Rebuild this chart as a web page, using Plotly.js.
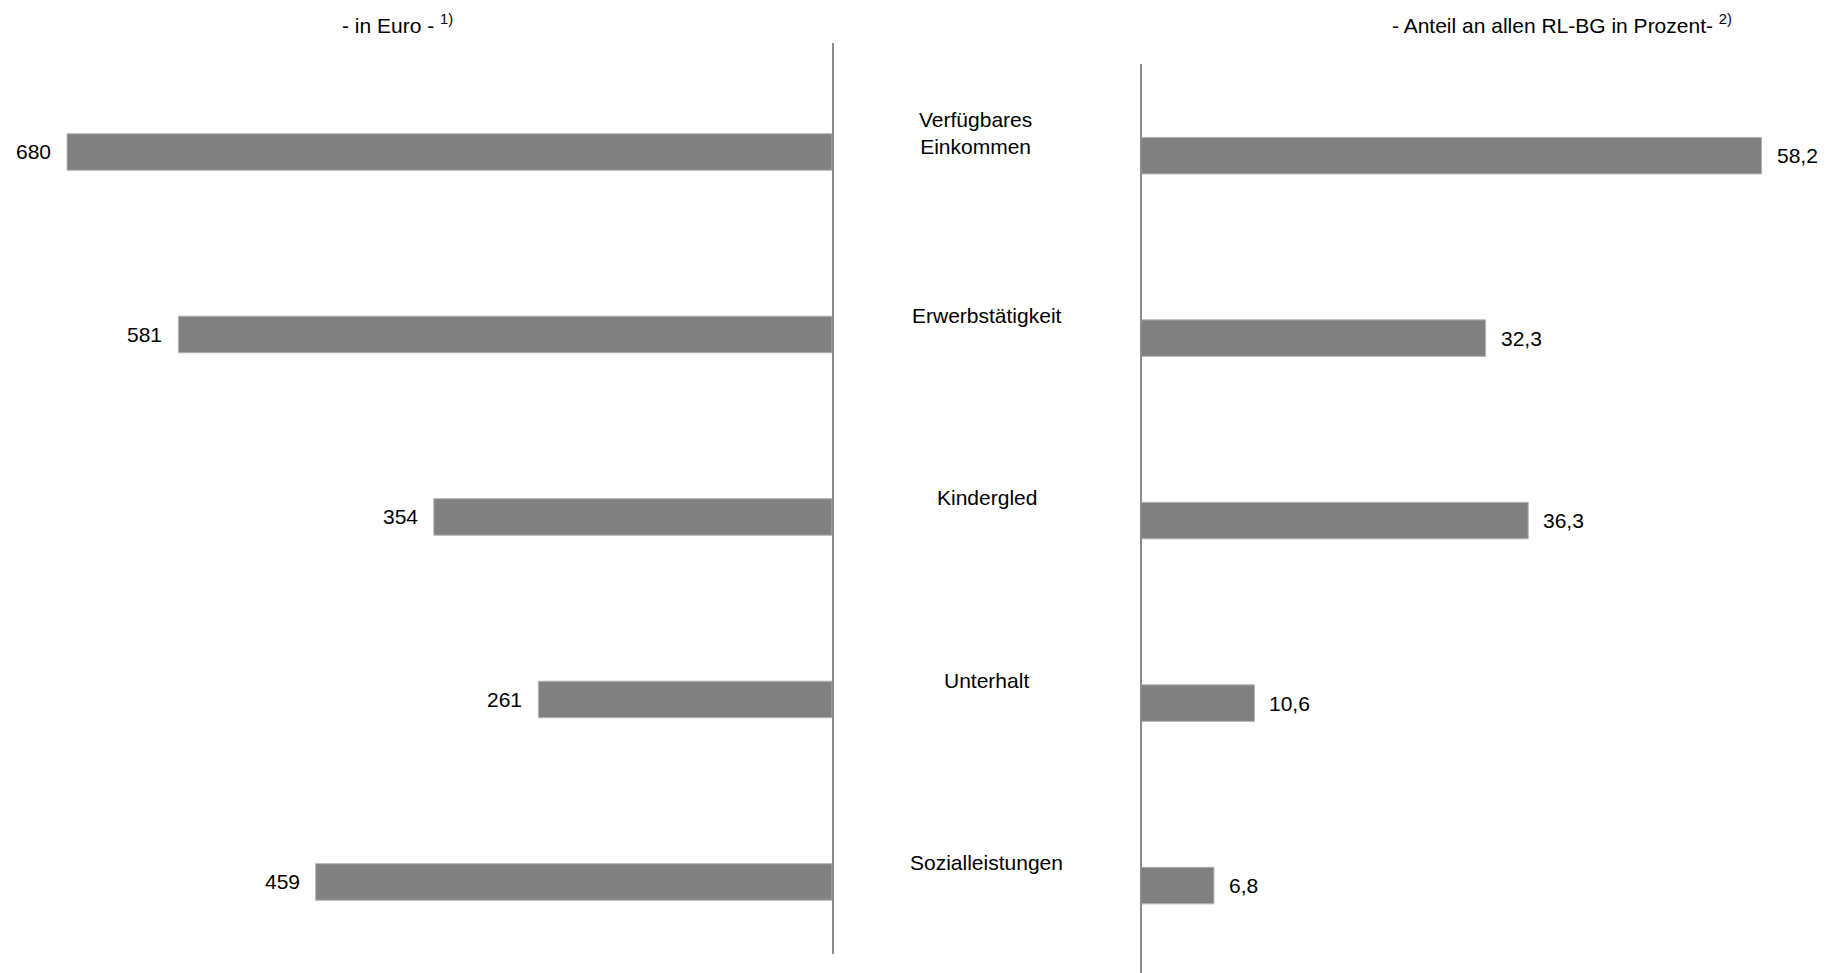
<!DOCTYPE html>
<html>
<head>
<meta charset="utf-8">
<script src="https://cdn.plot.ly/plotly-3.0.1.min.js"></script>
<style>
  html, body { margin: 0; padding: 0; background: #ffffff; }
  #chart { width: 1834px; height: 973px; }
</style>
</head>
<body>
<div id="chart"></div>
<script>
// ---- data ----
const categories = ["Verfügbares Einkommen", "Erwerbstätigkeit", "Kindergled", "Unterhalt", "Sozialleistungen"];
const categoryLabels = ["Verfügbares<br>Einkommen", "Erwerbstätigkeit", "Kindergled", "Unterhalt", "Sozialleistungen"];
const euroValues = [680, 581, 354, 261, 459];
const shareValues = [58.2, 32.3, 36.3, 10.6, 6.8];
const leftTitle = "- in Euro - <sup>1)</sup>";
const rightTitle = "- Anteil an allen RL-BG in Prozent- <sup>2)</sup>";

// ---- styles ----
const FONT = "Liberation Sans, Arial, Helvetica, sans-serif";
const BAR_COLOR = "#808080";
const LINE_COLOR = "#8c8c8c";
const LABEL_XSHIFTS = [-11, 0, 0, 0, 0];

const traces = [
  {
    type: "bar", orientation: "h",
    y: categories, x: euroValues,
    xaxis: "x", yaxis: "y",
    width: 0.2,
    marker: { color: BAR_COLOR, line: { color: "#b3b3b3", width: 1 } },
    hoverinfo: "skip"
  },
  {
    type: "bar", orientation: "h",
    y: categories, x: shareValues,
    xaxis: "x2", yaxis: "y2",
    width: 0.2,
    marker: { color: BAR_COLOR, line: { color: "#b3b3b3", width: 1 } },
    hoverinfo: "skip"
  }
];

const annotations = [];
// value labels
euroValues.forEach((v, i) => {
  annotations.push({
    xref: "x", yref: "y", x: v, y: categories[i],
    text: String(v), showarrow: false,
    xanchor: "right", yanchor: "middle", xshift: -14,
    font: { family: FONT, size: 21, color: "#000" }
  });
});
shareValues.forEach((v, i) => {
  annotations.push({
    xref: "x2", yref: "y2", x: v, y: categories[i],
    text: v.toFixed(1).replace(".", ","), showarrow: false,
    xanchor: "left", yanchor: "middle", xshift: 13,
    font: { family: FONT, size: 21, color: "#000" }
  });
});
// category labels in the middle
categoryLabels.forEach((c, i) => {
  annotations.push({
    xref: "paper", yref: "y", x: 0.538, y: categories[i],
    text: c, showarrow: false,
    xanchor: "center", yanchor: "middle", yshift: 19, xshift: LABEL_XSHIFTS[i],
    align: "center",
    font: { family: FONT, size: 21, color: "#000" }
  });
});
// panel titles
annotations.push({
  xref: "paper", yref: "paper", x: 0.217, y: 0.9753,
  text: leftTitle, showarrow: false, xanchor: "center", yanchor: "middle",
  font: { family: FONT, size: 21, color: "#000" }
});
annotations.push({
  xref: "paper", yref: "paper", x: 0.8517, y: 0.9753,
  text: rightTitle, showarrow: false, xanchor: "center", yanchor: "middle",
  font: { family: FONT, size: 21, color: "#000" }
});

const layout = {
  width: 1834, height: 973,
  margin: { l: 0, r: 0, t: 0, b: 0, pad: 0 },
  paper_bgcolor: "#ffffff", plot_bgcolor: "rgba(0,0,0,0)",
  showlegend: false,
  font: { family: FONT, size: 21, color: "#000" },
  bargap: 0,
  xaxis: {
    domain: [0, 0.45366], range: [739.6, 0],
    visible: false, fixedrange: true
  },
  yaxis: {
    domain: [0.0195, 0.9558], range: [4.395, -0.597],
    type: "category", categoryorder: "array", categoryarray: categories,
    anchor: "x", side: "right",
    showline: true, linecolor: LINE_COLOR, linewidth: 1.5,
    showticklabels: false, ticks: "", showgrid: false, zeroline: false, fixedrange: true
  },
  xaxis2: {
    domain: [0.62241, 1], range: [0, 65.0],
    anchor: "y2",
    visible: false, fixedrange: true
  },
  yaxis2: {
    domain: [0, 0.9342], range: [4.479, -0.502],
    type: "category", categoryorder: "array", categoryarray: categories,
    anchor: "x2", side: "left",
    showline: true, linecolor: LINE_COLOR, linewidth: 1.5,
    showticklabels: false, ticks: "", showgrid: false, zeroline: false, fixedrange: true
  },
  annotations: annotations
};

Plotly.newPlot("chart", traces, layout, { staticPlot: true, displayModeBar: false });
</script>
</body>
</html>
